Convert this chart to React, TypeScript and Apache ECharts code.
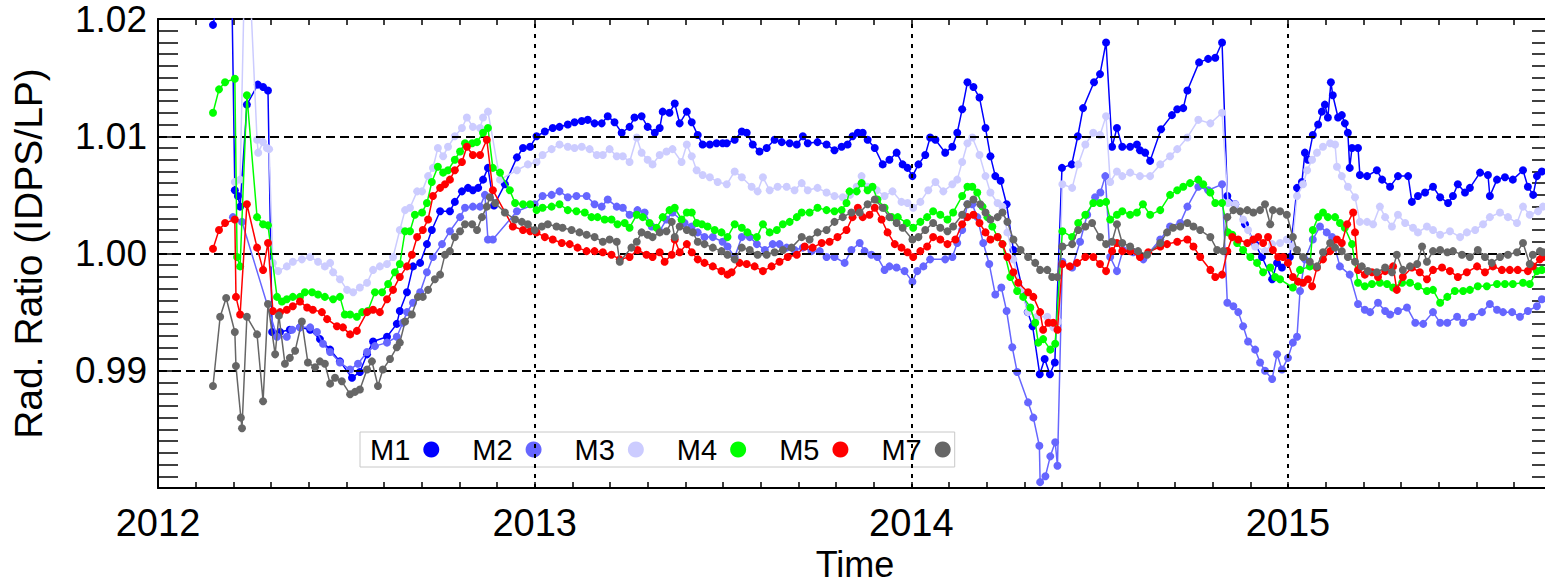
import React, { useEffect, useRef } from 'react';
import * as echarts from 'echarts';

// [decimal year, radiance ratio]
const M1: [number, number][] = [
  [2012.146,1.0195],[2012.194,1.0267],[2012.204,1.0054],[2012.212,1.0049],[2012.218,1.0040],[2012.236,1.0127],[2012.265,1.0144],[2012.279,1.0142],[2012.292,1.0139],
  [2012.303,0.9933],[2012.324,0.9933],[2012.350,0.9935],[2012.377,0.9937],[2012.404,0.9935],[2012.430,0.9927],[2012.457,0.9918],[2012.483,0.9908],[2012.515,0.9894],
  [2012.536,0.9899],[2012.555,0.9914],[2012.571,0.9925],[2012.608,0.9929],[2012.634,0.9940],[2012.642,0.9951],[2012.661,0.9967],[2012.677,0.9989],[2012.696,0.9992],
  [2012.714,1.0008],[2012.727,1.0020],[2012.749,1.0036],[2012.775,1.0036],[2012.788,1.0044],[2012.807,1.0053],[2012.823,1.0056],[2012.836,1.0054],[2012.850,1.0056],
  [2012.863,1.0063],[2012.876,1.0073],[2012.892,1.0041],[2012.921,1.0059],[2012.953,1.0082],[2012.969,1.0090],[2012.988,1.0091],[2013.005,1.0100],[2013.027,1.0104],
  [2013.048,1.0107],[2013.066,1.0108],[2013.088,1.0110],[2013.106,1.0112],[2013.125,1.0113],[2013.141,1.0114],[2013.159,1.0111],[2013.178,1.0111],[2013.194,1.0117],
  [2013.212,1.0112],[2013.231,1.0103],[2013.252,1.0108],[2013.265,1.0116],[2013.284,1.0117],[2013.300,1.0108],[2013.319,1.0103],[2013.332,1.0107],[2013.340,1.0121],
  [2013.358,1.0120],[2013.372,1.0128],[2013.385,1.0111],[2013.404,1.0121],[2013.417,1.0112],[2013.433,1.0101],[2013.446,1.0093],[2013.465,1.0093],[2013.483,1.0094],
  [2013.499,1.0094],[2013.510,1.0094],[2013.531,1.0097],[2013.550,1.0104],[2013.563,1.0103],[2013.579,1.0093],[2013.597,1.0087],[2013.616,1.0090],[2013.637,1.0097],
  [2013.656,1.0095],[2013.677,1.0094],[2013.696,1.0093],[2013.712,1.0100],[2013.725,1.0094],[2013.751,1.0095],[2013.775,1.0093],[2013.796,1.0088],[2013.815,1.0091],
  [2013.831,1.0093],[2013.844,1.0100],[2013.858,1.0103],[2013.871,1.0103],[2013.884,1.0097],[2013.903,1.0090],[2013.924,1.0076],[2013.942,1.0080],[2013.961,1.0086],
  [2013.977,1.0076],[2013.990,1.0073],[2014.003,1.0066],[2014.019,1.0076],[2014.037,1.0084],[2014.050,1.0099],[2014.064,1.0097],[2014.090,1.0086],[2014.109,1.0091],
  [2014.122,1.0103],[2014.135,1.0123],[2014.149,1.0146],[2014.165,1.0142],[2014.181,1.0133],[2014.197,1.0107],[2014.210,1.0083],[2014.223,1.0066],[2014.237,1.0062],
  [2014.253,1.0042],[2014.271,1.0003],[2014.309,0.9950],[2014.322,0.9938],[2014.341,0.9897],[2014.354,0.9910],[2014.368,0.9897],[2014.381,0.9907],[2014.400,1.0073],
  [2014.426,1.0076],[2014.442,1.0100],[2014.456,1.0124],[2014.485,1.0146],[2014.501,1.0153],[2014.517,1.0180],[2014.533,1.0091],[2014.546,1.0107],[2014.560,1.0091],
  [2014.581,1.0091],[2014.599,1.0093],[2014.607,1.0088],[2014.621,1.0086],[2014.634,1.0079],[2014.663,1.0106],[2014.692,1.0118],[2014.706,1.0123],[2014.722,1.0124],
  [2014.733,1.0139],[2014.764,1.0163],[2014.788,1.0166],[2014.807,1.0167],[2014.825,1.0180],[2014.839,1.0049],[2014.860,1.0042],[2014.886,1.0025],[2014.913,1.0008],
  [2014.931,0.9997],[2014.958,0.9978],[2014.971,0.9992],[2014.984,0.9988],[2015.005,0.9997],[2015.024,1.0056],[2015.037,1.0061],[2015.045,1.0086],[2015.053,1.0080],
  [2015.066,1.0101],[2015.080,1.0110],[2015.090,1.0121],[2015.098,1.0127],[2015.106,1.0116],[2015.114,1.0146],[2015.119,1.0135],[2015.133,1.0116],[2015.143,1.0118],
  [2015.151,1.0111],[2015.159,1.0103],[2015.164,1.0073],[2015.170,1.0090],[2015.186,1.0090],[2015.191,1.0067],[2015.210,1.0066],[2015.236,1.0071],[2015.250,1.0063],
  [2015.271,1.0057],[2015.292,1.0066],[2015.319,1.0066],[2015.329,1.0044],[2015.345,1.0049],[2015.364,1.0052],[2015.385,1.0057],[2015.404,1.0048],[2015.425,1.0043],
  [2015.438,1.0049],[2015.451,1.0059],[2015.470,1.0052],[2015.483,1.0056],[2015.510,1.0069],[2015.531,1.0067],[2015.536,1.0049],[2015.555,1.0063],[2015.576,1.0065],
  [2015.597,1.0063],[2015.624,1.0071],[2015.637,1.0057],[2015.651,1.0050],[2015.661,1.0066],[2015.674,1.0070],
];

const M2: [number, number][] = [
  [2012.199,1.0031],[2012.223,1.0027],[2012.316,0.9929],[2012.342,0.9929],[2012.356,0.9935],[2012.377,0.9937],[2012.404,0.9937],[2012.422,0.9933],[2012.438,0.9923],
  [2012.457,0.9916],[2012.483,0.9907],[2012.510,0.9901],[2012.531,0.9906],[2012.555,0.9916],[2012.576,0.9921],[2012.608,0.9924],[2012.634,0.9929],[2012.650,0.9941],
  [2012.661,0.9950],[2012.677,0.9958],[2012.696,0.9967],[2012.714,0.9984],[2012.730,0.9997],[2012.754,1.0008],[2012.775,1.0019],[2012.802,1.0031],[2012.815,1.0039],
  [2012.836,1.0040],[2012.855,1.0040],[2012.868,1.0050],[2012.876,1.0012],[2012.889,1.0012],[2012.953,1.0036],[2013.000,1.0042],[2013.021,1.0049],[2013.045,1.0050],
  [2013.066,1.0053],[2013.088,1.0048],[2013.111,1.0049],[2013.138,1.0049],[2013.159,1.0042],[2013.178,1.0040],[2013.194,1.0046],[2013.218,1.0040],[2013.234,1.0039],
  [2013.252,1.0033],[2013.273,1.0037],[2013.292,1.0035],[2013.311,1.0023],[2013.332,1.0019],[2013.350,1.0029],[2013.366,1.0035],[2013.398,1.0026],[2013.417,1.0023],
  [2013.433,1.0018],[2013.451,1.0014],[2013.473,1.0014],[2013.499,1.0010],[2013.512,1.0006],[2013.531,0.9997],[2013.550,1.0014],[2013.571,1.0014],[2013.590,1.0008],
  [2013.611,1.0003],[2013.632,1.0008],[2013.650,1.0008],[2013.669,1.0005],[2013.690,1.0003],[2013.712,1.0005],[2013.735,1.0002],[2013.757,1.0002],[2013.775,0.9997],
  [2013.796,0.9997],[2013.823,0.9992],[2013.841,1.0003],[2013.863,1.0009],[2013.876,1.0002],[2013.894,0.9999],[2013.910,0.9997],[2013.929,0.9986],[2013.942,0.9989],
  [2013.961,0.9988],[2013.982,0.9985],[2014.003,0.9976],[2014.016,0.9985],[2014.032,0.9989],[2014.050,0.9995],[2014.090,0.9995],[2014.109,0.9997],[2014.122,1.0009],
  [2014.135,1.0020],[2014.149,1.0042],[2014.162,1.0042],[2014.175,1.0031],[2014.191,1.0009],[2014.207,0.9991],[2014.223,0.9965],[2014.239,0.9971],[2014.253,0.9951],
  [2014.268,0.9920],[2014.281,0.9899],[2014.310,0.9873],[2014.324,0.9860],[2014.340,0.9836],[2014.342,0.9805],[2014.356,0.9810],[2014.369,0.9827],[2014.382,0.9839],
  [2014.388,0.9819],[2014.401,0.9993],[2014.427,0.9988],[2014.448,1.0010],[2014.467,1.0033],[2014.488,1.0048],[2014.502,1.0052],[2014.515,1.0066],[2014.528,0.9997],
  [2014.546,0.9985],[2014.562,1.0003],[2014.589,1.0001],[2014.616,0.9995],[2014.661,1.0012],[2014.687,1.0023],[2014.714,1.0026],[2014.733,1.0040],[2014.762,1.0057],
  [2014.788,1.0054],[2014.825,1.0059],[2014.839,0.9958],[2014.855,0.9955],[2014.868,0.9950],[2014.881,0.9938],[2014.894,0.9925],[2014.913,0.9918],[2014.926,0.9907],
  [2014.939,0.9900],[2014.958,0.9893],[2014.971,0.9914],[2014.984,0.9901],[2015.000,0.9911],[2015.013,0.9924],[2015.024,0.9929],[2015.032,0.9968],[2015.045,0.9995],
  [2015.066,1.0012],[2015.085,1.0023],[2015.103,1.0018],[2015.117,1.0014],[2015.138,0.9989],[2015.164,0.9982],[2015.186,0.9957],[2015.204,0.9952],[2015.218,0.9950],
  [2015.239,0.9958],[2015.258,0.9951],[2015.271,0.9948],[2015.292,0.9951],[2015.316,0.9954],[2015.338,0.9941],[2015.359,0.9940],[2015.385,0.9950],[2015.404,0.9941],
  [2015.423,0.9941],[2015.449,0.9946],[2015.465,0.9941],[2015.489,0.9946],[2015.515,0.9950],[2015.536,0.9957],[2015.555,0.9952],[2015.571,0.9950],[2015.595,0.9950],
  [2015.616,0.9946],[2015.637,0.9951],[2015.661,0.9955],[2015.674,0.9961],
];

const M3: [number, number][] = [
  [2012.204,1.0061],[2012.218,1.0063],[2012.234,1.0301],[2012.263,1.0097],[2012.266,1.0086],[2012.279,1.0095],[2012.289,1.0090],[2012.295,1.0089],[2012.305,0.9992],
  [2012.319,0.9985],[2012.342,0.9989],[2012.358,0.9993],[2012.382,0.9995],[2012.404,0.9997],[2012.425,0.9993],[2012.443,0.9989],[2012.457,0.9992],[2012.465,0.9984],
  [2012.483,0.9978],[2012.502,0.9969],[2012.518,0.9967],[2012.536,0.9971],[2012.555,0.9975],[2012.571,0.9986],[2012.589,0.9989],[2012.608,0.9991],[2012.624,0.9997],
  [2012.642,1.0020],[2012.656,1.0037],[2012.669,1.0039],[2012.688,1.0053],[2012.701,1.0053],[2012.717,1.0066],[2012.730,1.0073],[2012.743,1.0090],[2012.757,1.0083],
  [2012.770,1.0091],[2012.788,1.0100],[2012.807,1.0107],[2012.820,1.0116],[2012.836,1.0108],[2012.855,1.0107],[2012.863,1.0116],[2012.876,1.0121],[2012.908,1.0063],
  [2012.953,1.0071],[2012.982,1.0076],[2013.005,1.0078],[2013.021,1.0084],[2013.045,1.0089],[2013.066,1.0093],[2013.088,1.0091],[2013.106,1.0090],[2013.125,1.0091],
  [2013.146,1.0089],[2013.165,1.0084],[2013.181,1.0084],[2013.199,1.0089],[2013.218,1.0083],[2013.234,1.0083],[2013.252,1.0078],[2013.271,1.0099],[2013.284,1.0086],
  [2013.300,1.0080],[2013.313,1.0076],[2013.332,1.0084],[2013.350,1.0087],[2013.366,1.0089],[2013.390,1.0078],[2013.404,1.0093],[2013.417,1.0083],[2013.430,1.0071],
  [2013.446,1.0067],[2013.465,1.0065],[2013.486,1.0061],[2013.510,1.0059],[2013.531,1.0070],[2013.550,1.0065],[2013.576,1.0057],[2013.592,1.0053],[2013.606,1.0065],
  [2013.624,1.0054],[2013.645,1.0057],[2013.669,1.0057],[2013.690,1.0054],[2013.709,1.0060],[2013.725,1.0054],[2013.751,1.0056],[2013.775,1.0052],[2013.796,1.0049],
  [2013.818,1.0048],[2013.837,1.0050],[2013.855,1.0057],[2013.868,1.0066],[2013.884,1.0057],[2013.908,1.0054],[2013.929,1.0049],[2013.950,1.0053],[2013.974,1.0044],
  [2013.990,1.0043],[2014.005,1.0039],[2014.024,1.0044],[2014.045,1.0054],[2014.064,1.0061],[2014.085,1.0053],[2014.109,1.0059],[2014.122,1.0063],[2014.135,1.0078],
  [2014.149,1.0094],[2014.162,1.0099],[2014.181,1.0084],[2014.197,1.0066],[2014.210,1.0052],[2014.229,1.0043],[2014.242,1.0040],[2014.255,1.0018],[2014.271,0.9995],
  [2014.290,0.9969],[2014.310,0.9950],[2014.334,0.9946],[2014.361,0.9946],[2014.377,0.9937],[2014.390,0.9942],[2014.401,1.0059],[2014.427,1.0056],[2014.443,1.0076],
  [2014.462,1.0093],[2014.483,1.0103],[2014.501,1.0101],[2014.517,1.0117],[2014.528,1.0061],[2014.546,1.0070],[2014.560,1.0066],[2014.581,1.0069],[2014.607,1.0066],
  [2014.634,1.0066],[2014.661,1.0076],[2014.687,1.0083],[2014.706,1.0089],[2014.733,1.0099],[2014.762,1.0114],[2014.794,1.0111],[2014.825,1.0120],[2014.841,1.0043],
  [2014.860,1.0042],[2014.881,1.0029],[2014.894,1.0020],[2014.913,1.0006],[2014.939,1.0002],[2014.958,1.0008],[2014.979,1.0009],[2014.997,1.0012],[2015.011,1.0006],
  [2015.024,1.0049],[2015.040,1.0059],[2015.051,1.0071],[2015.064,1.0080],[2015.077,1.0086],[2015.093,1.0091],[2015.112,1.0094],[2015.125,1.0093],[2015.130,1.0074],
  [2015.143,1.0066],[2015.159,1.0057],[2015.178,1.0048],[2015.191,1.0027],[2015.210,1.0027],[2015.226,1.0025],[2015.244,1.0040],[2015.258,1.0031],[2015.276,1.0023],
  [2015.292,1.0033],[2015.311,1.0026],[2015.332,1.0022],[2015.345,1.0018],[2015.369,1.0023],[2015.385,1.0020],[2015.404,1.0016],[2015.430,1.0019],[2015.457,1.0014],
  [2015.475,1.0018],[2015.497,1.0020],[2015.518,1.0025],[2015.536,1.0031],[2015.563,1.0035],[2015.584,1.0031],[2015.608,1.0026],[2015.624,1.0040],[2015.642,1.0033],
  [2015.664,1.0036],[2015.677,1.0040],
];

const M4: [number, number][] = [
  [2012.146,1.0120],[2012.162,1.0140],[2012.178,1.0146],[2012.204,1.0149],[2012.210,0.9997],[2012.218,0.9989],[2012.236,1.0135],[2012.263,1.0031],[2012.279,1.0025],
  [2012.292,1.0024],[2012.316,0.9963],[2012.329,0.9959],[2012.342,0.9961],[2012.358,0.9963],[2012.377,0.9963],[2012.390,0.9967],[2012.409,0.9967],[2012.425,0.9965],
  [2012.443,0.9963],[2012.465,0.9961],[2012.483,0.9963],[2012.496,0.9948],[2012.510,0.9948],[2012.528,0.9946],[2012.542,0.9950],[2012.557,0.9951],[2012.576,0.9967],
  [2012.595,0.9967],[2012.611,0.9974],[2012.629,0.9984],[2012.642,0.9991],[2012.656,1.0019],[2012.669,1.0019],[2012.682,1.0033],[2012.701,1.0035],[2012.714,1.0043],
  [2012.727,1.0061],[2012.743,1.0074],[2012.757,1.0069],[2012.770,1.0071],[2012.788,1.0080],[2012.802,1.0087],[2012.815,1.0094],[2012.834,1.0094],[2012.847,1.0095],
  [2012.863,1.0103],[2012.876,1.0107],[2012.889,1.0073],[2012.908,1.0069],[2012.934,1.0054],[2012.948,1.0043],[2012.969,1.0042],[2012.988,1.0042],[2013.005,1.0037],
  [2013.021,1.0039],[2013.045,1.0040],[2013.066,1.0042],[2013.088,1.0037],[2013.111,1.0036],[2013.133,1.0035],[2013.151,1.0031],[2013.167,1.0031],[2013.186,1.0029],
  [2013.204,1.0029],[2013.220,1.0025],[2013.239,1.0026],[2013.252,1.0022],[2013.271,1.0033],[2013.287,1.0031],[2013.305,1.0026],[2013.324,1.0022],[2013.340,1.0031],
  [2013.358,1.0037],[2013.372,1.0039],[2013.390,1.0029],[2013.404,1.0035],[2013.417,1.0035],[2013.430,1.0026],[2013.444,1.0025],[2013.459,1.0023],[2013.478,1.0020],
  [2013.496,1.0018],[2013.512,1.0014],[2013.531,1.0025],[2013.550,1.0022],[2013.565,1.0018],[2013.590,1.0014],[2013.606,1.0025],[2013.624,1.0018],[2013.643,1.0020],
  [2013.659,1.0025],[2013.677,1.0027],[2013.696,1.0031],[2013.709,1.0035],[2013.730,1.0035],[2013.751,1.0039],[2013.775,1.0037],[2013.796,1.0036],[2013.815,1.0037],
  [2013.828,1.0043],[2013.836,1.0053],[2013.855,1.0053],[2013.868,1.0060],[2013.884,1.0054],[2013.897,1.0057],[2013.910,1.0046],[2013.929,1.0039],[2013.948,1.0031],
  [2013.964,1.0031],[2013.988,1.0026],[2014.005,1.0022],[2014.024,1.0027],[2014.042,1.0031],[2014.058,1.0036],[2014.077,1.0033],[2014.096,1.0029],[2014.111,1.0035],
  [2014.135,1.0049],[2014.149,1.0057],[2014.162,1.0057],[2014.175,1.0052],[2014.189,1.0040],[2014.202,1.0031],[2014.215,1.0023],[2014.229,1.0014],[2014.242,1.0008],
  [2014.263,0.9980],[2014.281,0.9968],[2014.297,0.9963],[2014.316,0.9954],[2014.329,0.9941],[2014.337,0.9924],[2014.350,0.9927],[2014.369,0.9918],[2014.382,0.9923],
  [2014.401,1.0019],[2014.427,1.0014],[2014.443,1.0026],[2014.462,1.0033],[2014.483,1.0043],[2014.501,1.0043],[2014.517,1.0044],[2014.528,1.0029],[2014.546,1.0033],
  [2014.560,1.0036],[2014.581,1.0033],[2014.599,1.0035],[2014.615,1.0042],[2014.634,1.0033],[2014.661,1.0037],[2014.687,1.0050],[2014.706,1.0054],[2014.722,1.0057],
  [2014.740,1.0060],[2014.762,1.0063],[2014.775,1.0059],[2014.794,1.0052],[2014.807,1.0043],[2014.825,1.0043],[2014.841,1.0018],[2014.852,1.0016],[2014.865,1.0009],
  [2014.881,1.0003],[2014.900,0.9997],[2014.918,0.9992],[2014.934,0.9984],[2014.953,0.9988],[2014.966,0.9980],[2014.979,0.9978],[2015.013,0.9971],[2015.032,0.9986],
  [2015.058,0.9989],[2015.066,1.0020],[2015.080,1.0031],[2015.093,1.0035],[2015.106,1.0031],[2015.125,1.0031],[2015.138,1.0026],[2015.151,1.0022],[2015.170,1.0008],
  [2015.186,0.9975],[2015.204,0.9972],[2015.223,0.9974],[2015.244,0.9975],[2015.263,0.9974],[2015.279,0.9971],[2015.303,0.9975],[2015.324,0.9975],[2015.345,0.9972],
  [2015.369,0.9968],[2015.385,0.9969],[2015.404,0.9958],[2015.423,0.9963],[2015.443,0.9968],[2015.465,0.9968],[2015.483,0.9969],[2015.504,0.9972],[2015.528,0.9972],
  [2015.555,0.9974],[2015.576,0.9974],[2015.597,0.9974],[2015.624,0.9975],[2015.642,0.9974],[2015.661,0.9985],[2015.674,0.9986],
];

const M5: [number, number][] = [
  [2012.146,1.0004],[2012.162,1.0020],[2012.178,1.0026],[2012.204,1.0029],[2012.207,0.9963],[2012.218,0.9948],[2012.236,1.0042],[2012.263,1.0005],[2012.279,0.9986],
  [2012.292,1.0009],[2012.305,0.9951],[2012.324,0.9950],[2012.342,0.9952],[2012.358,0.9955],[2012.377,0.9959],[2012.396,0.9954],[2012.411,0.9952],[2012.435,0.9950],
  [2012.449,0.9944],[2012.475,0.9938],[2012.491,0.9937],[2012.510,0.9931],[2012.528,0.9934],[2012.555,0.9950],[2012.571,0.9952],[2012.589,0.9950],[2012.608,0.9961],
  [2012.624,0.9969],[2012.642,0.9980],[2012.661,0.9989],[2012.674,0.9999],[2012.688,1.0014],[2012.703,1.0020],[2012.717,1.0029],[2012.730,1.0049],[2012.749,1.0056],
  [2012.762,1.0059],[2012.775,1.0063],[2012.788,1.0071],[2012.807,1.0078],[2012.820,1.0091],[2012.836,1.0084],[2012.855,1.0084],[2012.873,1.0097],[2012.889,1.0054],
  [2012.942,1.0023],[2012.969,1.0020],[2012.988,1.0019],[2013.005,1.0018],[2013.027,1.0014],[2013.048,1.0012],[2013.072,1.0009],[2013.093,1.0008],[2013.114,1.0005],
  [2013.138,1.0002],[2013.159,1.0002],[2013.181,1.0001],[2013.204,0.9999],[2013.226,0.9995],[2013.252,0.9997],[2013.273,1.0003],[2013.297,0.9999],[2013.313,0.9997],
  [2013.332,1.0001],[2013.345,0.9993],[2013.364,0.9999],[2013.372,1.0012],[2013.385,1.0001],[2013.404,1.0008],[2013.417,1.0001],[2013.433,0.9995],[2013.451,0.9992],
  [2013.473,0.9989],[2013.496,0.9985],[2013.512,0.9982],[2013.523,0.9984],[2013.544,0.9992],[2013.563,0.9991],[2013.584,0.9989],[2013.606,0.9985],[2013.629,0.9989],
  [2013.650,0.9993],[2013.672,0.9997],[2013.696,0.9999],[2013.717,1.0006],[2013.738,1.0005],[2013.762,1.0009],[2013.783,1.0010],[2013.804,1.0014],[2013.828,1.0020],
  [2013.844,1.0031],[2013.858,1.0039],[2013.871,1.0031],[2013.889,1.0033],[2013.903,1.0039],[2013.921,1.0029],[2013.937,1.0018],[2013.956,1.0008],[2013.974,1.0005],
  [2013.990,1.0001],[2014.005,0.9997],[2014.024,1.0002],[2014.042,1.0006],[2014.058,1.0014],[2014.077,1.0012],[2014.096,1.0008],[2014.117,1.0012],[2014.135,1.0025],
  [2014.149,1.0031],[2014.165,1.0033],[2014.181,1.0026],[2014.197,1.0018],[2014.210,1.0012],[2014.229,1.0014],[2014.242,1.0008],[2014.255,0.9997],[2014.271,0.9984],
  [2014.284,0.9975],[2014.310,0.9967],[2014.324,0.9963],[2014.342,0.9950],[2014.350,0.9935],[2014.364,0.9941],[2014.377,0.9941],[2014.388,0.9935],[2014.401,0.9991],
  [2014.421,0.9989],[2014.440,0.9992],[2014.462,0.9997],[2014.483,0.9997],[2014.501,0.9991],[2014.517,0.9985],[2014.533,1.0002],[2014.546,1.0009],[2014.560,1.0002],
  [2014.581,1.0002],[2014.607,0.9997],[2014.629,1.0001],[2014.661,1.0006],[2014.679,1.0008],[2014.706,1.0010],[2014.733,1.0012],[2014.749,1.0006],[2014.767,0.9997],
  [2014.794,0.9986],[2014.807,0.9980],[2014.825,0.9982],[2014.839,1.0002],[2014.852,1.0014],[2014.868,1.0012],[2014.892,1.0009],[2014.908,1.0012],[2014.921,1.0014],
  [2014.934,1.0009],[2014.947,1.0014],[2014.960,1.0003],[2014.974,0.9997],[2014.987,0.9997],[2015.000,0.9992],[2015.013,0.9980],[2015.027,0.9976],[2015.040,0.9975],
  [2015.053,0.9978],[2015.064,0.9972],[2015.077,0.9988],[2015.093,0.9995],[2015.112,1.0002],[2015.130,1.0012],[2015.143,1.0009],[2015.157,1.0025],[2015.173,1.0035],
  [2015.178,1.0018],[2015.186,0.9986],[2015.204,0.9982],[2015.223,0.9984],[2015.239,0.9980],[2015.258,0.9985],[2015.279,0.9989],[2015.289,0.9969],[2015.305,0.9980],
  [2015.329,0.9988],[2015.350,0.9984],[2015.369,0.9978],[2015.385,0.9986],[2015.409,0.9988],[2015.430,0.9985],[2015.451,0.9980],[2015.475,0.9984],[2015.502,0.9989],
  [2015.523,0.9984],[2015.544,0.9989],[2015.568,0.9986],[2015.589,0.9986],[2015.610,0.9986],[2015.637,0.9985],[2015.650,0.9989],[2015.669,0.9995],[2015.677,0.9997],
];

const M7: [number, number][] = [
  [2012.146,0.9887],[2012.165,0.9946],[2012.181,0.9962],[2012.204,0.9933],[2012.207,0.9904],[2012.220,0.9860],[2012.223,0.9851],[2012.236,0.9946],[2012.263,0.9931],
  [2012.279,0.9874],[2012.292,0.9957],[2012.311,0.9914],[2012.321,0.9947],[2012.337,0.9906],[2012.350,0.9911],[2012.364,0.9917],[2012.382,0.9942],[2012.398,0.9907],
  [2012.417,0.9903],[2012.430,0.9908],[2012.443,0.9906],[2012.457,0.9889],[2012.470,0.9894],[2012.488,0.9891],[2012.510,0.9880],[2012.523,0.9882],[2012.536,0.9884],
  [2012.555,0.9901],[2012.568,0.9908],[2012.584,0.9887],[2012.597,0.9901],[2012.616,0.9910],[2012.634,0.9920],[2012.642,0.9924],[2012.656,0.9942],[2012.674,0.9948],
  [2012.690,0.9963],[2012.703,0.9963],[2012.717,0.9969],[2012.735,0.9978],[2012.749,0.9982],[2012.762,0.9999],[2012.775,1.0002],[2012.788,1.0014],[2012.802,1.0019],
  [2012.815,1.0025],[2012.834,1.0025],[2012.847,1.0020],[2012.860,1.0031],[2012.873,1.0040],[2012.881,1.0048],[2012.895,1.0043],[2012.921,1.0035],[2012.948,1.0029],
  [2012.966,1.0027],[2012.982,1.0025],[2013.000,1.0020],[2013.019,1.0023],[2013.035,1.0025],[2013.058,1.0023],[2013.074,1.0022],[2013.098,1.0020],[2013.119,1.0018],
  [2013.138,1.0016],[2013.159,1.0014],[2013.181,1.0010],[2013.199,1.0012],[2013.218,1.0010],[2013.226,0.9993],[2013.257,1.0005],[2013.271,1.0010],[2013.284,1.0018],
  [2013.300,1.0016],[2013.313,1.0014],[2013.332,1.0018],[2013.350,1.0019],[2013.364,1.0027],[2013.372,1.0014],[2013.385,1.0023],[2013.404,1.0020],[2013.420,1.0018],
  [2013.433,1.0010],[2013.451,1.0008],[2013.473,1.0005],[2013.496,1.0002],[2013.512,0.9999],[2013.531,0.9995],[2013.550,1.0005],[2013.571,1.0003],[2013.592,0.9999],
  [2013.616,0.9999],[2013.637,1.0001],[2013.659,1.0003],[2013.682,1.0005],[2013.709,1.0014],[2013.730,1.0012],[2013.751,1.0018],[2013.775,1.0020],[2013.796,1.0027],
  [2013.818,1.0031],[2013.841,1.0035],[2013.863,1.0035],[2013.884,1.0042],[2013.903,1.0046],[2013.924,1.0039],[2013.942,1.0031],[2013.961,1.0026],[2013.977,1.0022],
  [2014.003,1.0012],[2014.019,1.0014],[2014.037,1.0020],[2014.058,1.0026],[2014.077,1.0022],[2014.096,1.0019],[2014.111,1.0023],[2014.135,1.0033],[2014.149,1.0042],
  [2014.165,1.0046],[2014.183,1.0042],[2014.197,1.0035],[2014.210,1.0029],[2014.229,1.0031],[2014.242,1.0035],[2014.255,1.0027],[2014.271,1.0012],[2014.290,1.0003],
  [2014.310,0.9997],[2014.329,0.9992],[2014.342,0.9986],[2014.361,0.9986],[2014.374,0.9980],[2014.388,0.9980],[2014.401,1.0006],[2014.427,1.0008],[2014.443,1.0020],
  [2014.462,1.0023],[2014.480,1.0026],[2014.501,1.0014],[2014.517,1.0008],[2014.533,1.0010],[2014.546,1.0025],[2014.560,1.0009],[2014.581,1.0006],[2014.602,1.0002],
  [2014.626,0.9999],[2014.661,1.0009],[2014.679,1.0018],[2014.695,1.0022],[2014.714,1.0023],[2014.733,1.0026],[2014.749,1.0023],[2014.767,1.0020],[2014.794,1.0014],
  [2014.812,1.0003],[2014.828,1.0002],[2014.839,1.0031],[2014.855,1.0037],[2014.873,1.0036],[2014.892,1.0037],[2014.908,1.0035],[2014.926,1.0037],[2014.939,1.0042],
  [2014.953,1.0025],[2014.960,1.0037],[2014.979,1.0036],[2014.997,1.0033],[2015.013,1.0014],[2015.024,1.0003],[2015.040,0.9997],[2015.058,0.9993],[2015.077,0.9989],
  [2015.093,1.0001],[2015.112,1.0009],[2015.125,1.0005],[2015.143,1.0002],[2015.159,0.9997],[2015.178,0.9993],[2015.196,0.9989],[2015.212,0.9985],[2015.236,0.9984],
  [2015.258,0.9988],[2015.276,0.9984],[2015.289,0.9999],[2015.305,0.9986],[2015.324,0.9989],[2015.343,0.9991],[2015.356,1.0006],[2015.369,0.9993],[2015.385,1.0002],
  [2015.404,1.0003],[2015.423,1.0001],[2015.438,1.0002],[2015.462,0.9999],[2015.483,0.9997],[2015.504,1.0003],[2015.523,0.9997],[2015.541,0.9992],[2015.563,0.9997],
  [2015.584,0.9999],[2015.608,1.0001],[2015.624,1.0009],[2015.642,0.9991],[2015.650,0.9999],[2015.669,1.0002],[2015.677,1.0001],
];

const SERIES_NAMES = ['M1', 'M2', 'M3', 'M4', 'M5', 'M7'];
const SERIES_DATA = [M1, M2, M3, M4, M5, M7];
const COLORS = ['#0000ff', '#6666ff', '#ccccff', '#00ff00', '#ff0000', '#666666'];
const X_MIN = 2012;
const X_MAX = 2015.701;
const Y_MIN = 0.98;
const Y_MAX = 1.02;
const H_GRID = [0.99, 1.0, 1.01];
const V_GRID = [2013, 2014, 2015];

export default function App() {
  const ref = useRef<HTMLDivElement>(null);
  useEffect(() => {
    const chart = echarts.init(ref.current as HTMLDivElement, null, { renderer: 'svg' });
    const font = "'Liberation Sans', Arial, sans-serif";
    const xFmt = (v: number) => (Math.abs(v - Math.round(v)) < 1e-6 ? String(Math.round(v)) : '');
    const yFmt = (v: number) => {
      const r = Math.round(v * 1000);
      return r % 10 === 0 && r >= 990 ? (r / 1000).toFixed(2) : '';
    };
    const axisLine = { show: true, onZero: false, lineStyle: { color: '#000', width: 2 } };
    const xBase: any = {
      type: 'value', min: X_MIN, max: X_MAX, interval: 0.1,
      splitLine: { show: false }, axisLine,
      axisTick: { show: true, inside: true, length: 6, lineStyle: { color: '#000', width: 1.5 } },
    };
    const yBase: any = {
      type: 'value', min: Y_MIN, max: Y_MAX, interval: 0.001,
      splitLine: { show: false }, axisLine,
      axisTick: { show: true, inside: true, length: 20, lineStyle: { color: '#000', width: 1.5 } },
    };
    const option: any = {
      animation: false,
      backgroundColor: '#fff',
      textStyle: { fontFamily: font },
      grid: { left: 158, top: 19, right: 8, bottom: 92, containLabel: false, outerBoundsMode: 'none' },
      xAxis: [
        {
          ...xBase, position: 'bottom',
          axisLabel: { show: true, formatter: xFmt, fontSize: 38, color: '#000', margin: 16, fontFamily: font },
          name: 'Time', nameLocation: 'middle', nameGap: 52,
          nameTextStyle: { fontSize: 36, lineHeight: 36, color: '#000', fontFamily: font },
        },
        { ...xBase, position: 'top', axisLabel: { show: false } },
      ],
      yAxis: [
        {
          ...yBase, position: 'left',
          axisLabel: { show: true, formatter: yFmt, fontSize: 37, color: '#000', margin: 11, fontFamily: font },
          name: 'Rad. Ratio (IDPS/LP)', nameLocation: 'middle', nameRotate: 90, nameGap: 110,
          nameTextStyle: { fontSize: 39, color: '#000', fontFamily: font },
        },
        { ...yBase, position: 'right', axisLabel: { show: false } },
      ],
      legend: {
        data: SERIES_NAMES.map((n) => ({ name: n, icon: 'circle' })),
        left: 360, top: 432, orient: 'horizontal', align: 'right',
        itemWidth: 16, itemHeight: 17, itemGap: 33,
        padding: [3, 4, 3, 10],
        backgroundColor: '#fff', borderColor: '#c8c8c8', borderWidth: 1,
        textStyle: { fontSize: 29, color: '#000', fontFamily: font, padding: [0, 8, 0, 0] },
        selectedMode: false,
      },
      series: [
        {
          type: 'line', name: 'grid', data: [], silent: true, z: 1,
          markLine: {
            silent: true, symbol: ['none', 'none'], label: { show: false }, animation: false,
            emphasis: { disabled: true },
            data: [
              ...H_GRID.map((v) => ({ yAxis: v, lineStyle: { type: [9, 5], color: '#000', width: 2 } })),
              ...V_GRID.map((v) => ({ xAxis: v, lineStyle: { type: [4, 6], color: '#000', width: 2 } })),
            ],
          },
        },
        ...SERIES_NAMES.map((name, i) => ({
          type: 'line', name, data: SERIES_DATA[i], z: 2 + i,
          symbol: 'circle', symbolSize: 8, showSymbol: true, clip: true,
          lineStyle: { width: 1.5, color: COLORS[i] },
          itemStyle: { color: COLORS[i] },
          emphasis: { disabled: true },
        })),
      ],
    };
    chart.setOption(option);
    return () => chart.dispose();
  }, []);
  return (
    <div style={{ position: 'absolute', left: 0, top: 0, width: 1545, height: 580, overflow: 'hidden', background: '#fff' }}>
      <div ref={ref} style={{ width: 1560, height: 580 }} />
    </div>
  );
}
